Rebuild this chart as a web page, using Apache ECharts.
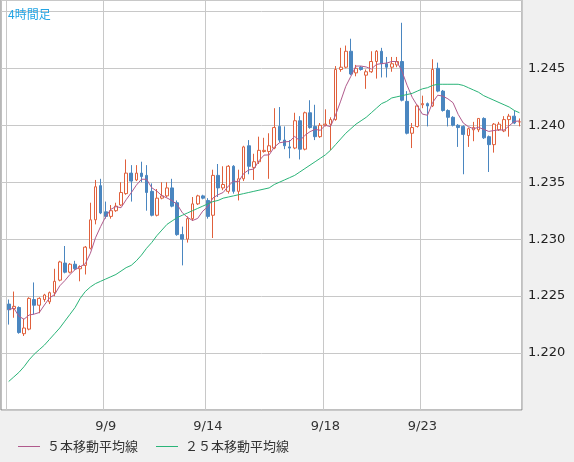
<!DOCTYPE html>
<html><head><meta charset="utf-8">
<script src="https://cdn.jsdelivr.net/npm/echarts@6/dist/echarts.min.js"></script>
<style>html,body{margin:0;padding:0;background:#f0f0f0}#c{width:574px;height:462px}</style>
</head><body><div id="c"></div>
<script>
const opens = [1.2243,1.2239,1.2240,1.2217,1.2221,1.2247,1.2242,1.2247,1.2245,1.2253,1.2264,1.2279,1.2271,1.2278,1.2274,1.2277,1.2292,1.2317,1.2347,1.2324,
1.2320,1.2325,1.2330,1.2340,1.2358,1.2352,1.2358,1.2356,1.2342,1.2321,1.2336,1.2338,1.2345,1.2332,1.2304,1.2300,1.2318,1.2331,1.2338,1.2334,
1.2321,1.2356,1.2345,1.2342,1.2364,1.2342,1.2353,1.2382,1.2363,1.2368,1.2377,1.2377,1.2380,1.2399,1.2387,1.2381,1.2380,1.2404,1.2379,1.2411,
1.2399,1.2390,1.2400,1.2401,1.2405,1.2449,1.2451,1.2465,1.2446,1.2451,1.2444,1.2447,1.2456,1.2465,1.2454,1.2451,1.2453,1.2456,1.2421,1.2393,
1.2399,1.2418,1.2419,1.2417,1.2450,1.2430,1.2413,1.2407,1.2400,1.2399,1.2391,1.2396,1.2396,1.2406,1.2390,1.2383,1.2396,1.2395,1.2405,1.2408,1.2403];
const closes = [1.2238,1.2241,1.2218,1.2222,1.2248,1.2242,1.2248,1.2251,1.2253,1.2263,1.2280,1.2271,1.2278,1.2274,1.2276,1.2293,1.2317,1.2346,1.2323,1.2320,
1.2325,1.2329,1.2341,1.2358,1.2351,1.2358,1.2355,1.2341,1.2321,1.2336,1.2338,1.2345,1.2329,1.2304,1.2300,1.2318,1.2331,1.2338,1.2336,1.2320,
1.2356,1.2345,1.2348,1.2364,1.2342,1.2353,1.2381,1.2364,1.2368,1.2378,1.2378,1.2382,1.2398,1.2387,1.2382,1.2380,1.2404,1.2379,1.2411,1.2398,
1.2390,1.2400,1.2401,1.2405,1.2449,1.2451,1.2465,1.2445,1.2450,1.2449,1.2447,1.2456,1.2465,1.2454,1.2451,1.2454,1.2456,1.2422,1.2393,1.2398,
1.2417,1.2419,1.2417,1.2449,1.2430,1.2413,1.2407,1.2400,1.2398,1.2392,1.2397,1.2398,1.2406,1.2389,1.2383,1.2401,1.2401,1.2405,1.2408,1.2402,1.2403];
const lows = [1.2225,1.2231,1.2217,1.2215,1.2220,1.2234,1.2235,1.2245,1.2243,1.2250,1.2263,1.2270,1.2270,1.2273,1.2263,1.2269,1.2291,1.2313,1.2322,1.2318,
1.2318,1.2324,1.2329,1.2339,1.2333,1.2351,1.2350,1.2325,1.2320,1.2320,1.2335,1.2337,1.2328,1.2303,1.2277,1.2297,1.2316,1.2330,1.2335,1.2318,
1.2301,1.2337,1.2343,1.2340,1.2340,1.2334,1.2351,1.2357,1.2352,1.2366,1.2376,1.2353,1.2379,1.2385,1.2379,1.2371,1.2379,1.2370,1.2378,1.2397,
1.2387,1.2389,1.2399,1.2378,1.2404,1.2447,1.2450,1.2444,1.2443,1.2448,1.2432,1.2446,1.2441,1.2442,1.2442,1.2447,1.2451,1.2421,1.2392,1.2380,
1.2398,1.2415,1.2399,1.2416,1.2429,1.2412,1.2399,1.2399,1.2381,1.2357,1.2381,1.2386,1.2394,1.2388,1.2359,1.2376,1.2395,1.2394,1.2390,1.2401,1.2399];
const highs = [1.2247,1.2254,1.2241,1.2230,1.2249,1.2262,1.2249,1.2252,1.2254,1.2274,1.2281,1.2294,1.2279,1.2281,1.2277,1.2294,1.2332,1.2352,1.2353,1.2333,
1.2330,1.2332,1.2350,1.2370,1.2365,1.2365,1.2368,1.2365,1.2349,1.2344,1.2350,1.2350,1.2353,1.2334,1.2311,1.2320,1.2337,1.2339,1.2339,1.2336,
1.2361,1.2366,1.2364,1.2365,1.2365,1.2361,1.2382,1.2387,1.2375,1.2390,1.2389,1.2393,1.2415,1.2416,1.2399,1.2387,1.2411,1.2408,1.2412,1.2422,
1.2418,1.2402,1.2414,1.2407,1.2452,1.2468,1.2470,1.2476,1.2453,1.2452,1.2449,1.2465,1.2466,1.2468,1.2460,1.2460,1.2460,1.2490,1.2430,1.2402,
1.2418,1.2426,1.2420,1.2458,1.2455,1.2431,1.2414,1.2408,1.2401,1.2400,1.2398,1.2403,1.2406,1.2407,1.2391,1.2402,1.2403,1.2408,1.2410,1.2413,1.2406];
const ma25 = [1.2175,1.2179,1.2183,1.2188,1.2194,1.2199,1.2203,1.2207,1.2212,1.2217,1.2222,1.2228,1.2234,1.2240,1.2248,1.2254,1.2258,1.2261,1.2263,1.2265,
1.2267,1.2269,1.2272,1.2275,1.2277,1.2281,1.2286,1.2292,1.2297,1.2303,1.2308,1.2313,1.2316,1.2319,1.2321,1.2323,1.2325,1.2327,1.2329,1.2331,
1.2333,1.2334,1.2336,1.2337,1.2338,1.2339,1.2340,1.2341,1.2342,1.2343,1.2344,1.2345,1.2348,1.2350,1.2352,1.2354,1.2356,1.2359,1.2362,1.2365,
1.2368,1.2371,1.2374,1.2378,1.2383,1.2388,1.2393,1.2397,1.2401,1.2404,1.2407,1.2411,1.2415,1.2419,1.2421,1.2424,1.2425,1.2426,1.2427,1.2428,
1.2430,1.2432,1.2433,1.2435,1.2436,1.2436,1.2436,1.2436,1.2436,1.2435,1.2433,1.2431,1.2429,1.2426,1.2424,1.2422,1.2420,1.2418,1.2416,1.2413,1.2411];
const tickLabels = ['9/9','9/14','9/18','9/23'];
const tickIndex = [20,40,63,82];
const yTicks = ['1.220','1.225','1.230','1.235','1.240','1.245'];

const n = opens.length + 1;
const cats = [];
for (let i = 0; i < n; i++) cats.push(String(i));
tickIndex.forEach((k, j) => cats[k] = tickLabels[j]);
const gridIdx = new Set([1].concat(tickIndex));
const candle = ['-'];
for (let i = 0; i < opens.length; i++) candle.push([opens[i], closes[i], lows[i], highs[i]]);
const ma5 = ['-'];
for (let i = 0; i < closes.length; i++) {
  const s = closes.slice(Math.max(0, i - 4), i + 1);
  ma5.push(+(s.reduce((a, b) => a + b, 0) / s.length).toFixed(5));
}
const ma25d = ['-'].concat(ma25);

const chart = echarts.init(document.getElementById('c'));
chart.setOption({
  animation: false,
  backgroundColor: '#f0f0f0',
  title: {text: '4時間足', left: 3, top: 3, textStyle: {color: '#22a4e4', fontSize: 12, fontWeight: 'normal', fontFamily: 'Noto Sans CJK JP'}},
  grid: {left: 1, right: 52, top: 0, height: 410, backgroundColor: '#fff', show: true, borderColor: '#808080', borderWidth: 1},
  legend: {left: 13, top: 435, itemWidth: 22, itemHeight: 1, itemGap: 18, icon: 'rect',
    textStyle: {fontSize: 13, color: '#333', fontFamily: 'Noto Sans CJK JP', padding: [0, 0, 0, 2]},
    data: ['５本移動平均線', '２５本移動平均線']},
  xAxis: {type: 'category', data: cats, boundaryGap: true,
    axisLine: {show: false}, axisTick: {show: false},
    axisLabel: {interval: (i) => tickIndex.includes(i), color: '#333', fontSize: 13, margin: 10, fontFamily: 'DejaVu Sans'},
    splitLine: {show: true, interval: (i) => gridIdx.has(i), lineStyle: {color: '#c8c8c8'}}},
  yAxis: {type: 'value', position: 'right', min: 1.215, max: 1.251, interval: 0.005,
    axisLine: {show: false}, axisTick: {show: false},
    axisLabel: {color: '#222', fontSize: 13, margin: 6, fontFamily: 'DejaVu Sans',
      formatter: (v) => { const s = v.toFixed(3); return yTicks.includes(s) ? s : ''; }},
    splitLine: {lineStyle: {color: '#c8c8c8'}}},
  series: [
    {type: 'candlestick', data: candle, barWidth: 3.2,
      itemStyle: {color: '#ffffff', borderColor: '#e0603c', color0: '#4a86c0', borderColor0: '#4a86c0', borderWidth: 1}},
    {name: '５本移動平均線', type: 'line', data: ma5, symbol: 'none', lineStyle: {color: '#b05a8c', width: 1}, itemStyle: {color: '#b05a8c'}},
    {name: '２５本移動平均線', type: 'line', data: ma25d, symbol: 'none', lineStyle: {color: '#2ab478', width: 1}, itemStyle: {color: '#2ab478'}}
  ]
});
</script></body></html>
